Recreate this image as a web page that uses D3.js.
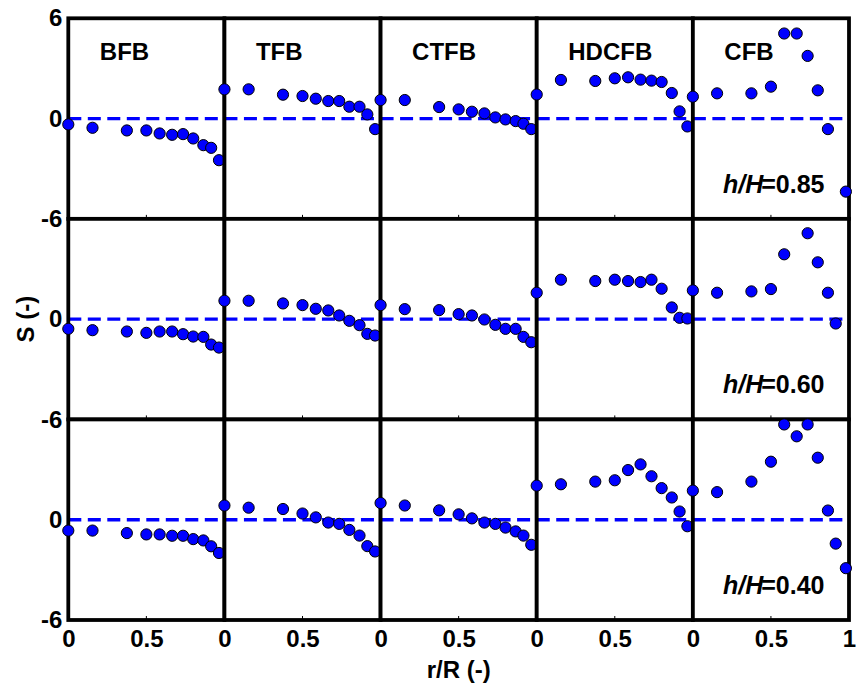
<!DOCTYPE html>
<html>
<head>
<meta charset="utf-8">
<script src="https://cdn.jsdelivr.net/npm/d3@7"></script>
<style>
	body { margin: 0; background: #fff; }
	text { font-family: "Liberation Sans", Arial, sans-serif; font-weight: bold; fill: #000; }
</style>
</head>
<body>
<svg id="chart" width="856" height="687"></svg>
<script>

// bed types (columns) and measuring heights (rows)
var bedTypes = ['BFB', 'TFB', 'CTFB', 'HDCFB', 'CFB'];
var heightLabels = ['0.85', '0.60', '0.40'];

// radial positions r/R
var radialPos = [0, 0.155, 0.375, 0.5, 0.585, 0.665, 0.735, 0.8, 0.865, 0.915, 0.965];
var cfbPos085 = [0, 0.155, 0.375, 0.5, 0.585, 0.665, 0.735, 0.8, 0.865, 0.98];
var cfbPos060 = [0, 0.155, 0.375, 0.5, 0.585, 0.735, 0.8, 0.865, 0.915];
var cfbPos040 = [0, 0.155, 0.375, 0.5, 0.585, 0.665, 0.735, 0.8, 0.865, 0.915, 0.98];

// S values, one array per bed type and height
var bfb085 = [-0.35, -0.55, -0.71, -0.71, -0.89, -0.97, -0.93, -1.19, -1.59, -1.75, -2.49];
var bfb060 = [-0.58, -0.66, -0.74, -0.82, -0.74, -0.74, -0.90, -1.04, -1.06, -1.52, -1.70];
var bfb040 = [-0.65, -0.65, -0.80, -0.88, -0.88, -0.96, -0.96, -1.16, -1.24, -1.59, -1.99];

var tfb085 = [1.75, 1.75, 1.43, 1.35, 1.19, 1.05, 1.05, 0.71, 0.71, 0.25, -0.63];
var tfb060 = [1.10, 1.10, 0.94, 0.84, 0.62, 0.52, 0.22, -0.10, -0.36, -0.88, -0.98];
var tfb040 = [0.85, 0.72, 0.64, 0.37, 0.14, -0.17, -0.25, -0.61, -0.95, -1.58, -1.90];

var ctfb085 = [1.11, 1.11, 0.69, 0.55, 0.41, 0.31, 0.07, -0.05, -0.15, -0.31, -0.63];
var ctfb060 = [0.84, 0.60, 0.54, 0.30, 0.22, -0.02, -0.34, -0.58, -0.58, -1.06, -1.38];
var ctfb040 = [1.00, 0.85, 0.56, 0.32, 0.08, -0.17, -0.25, -0.47, -0.70, -0.95, -1.50];

var hdcfb085 = [1.44, 2.31, 2.25, 2.41, 2.47, 2.33, 2.27, 2.19, 1.53, 0.43, -0.47];
var hdcfb060 = [1.58, 2.36, 2.28, 2.36, 2.28, 2.22, 2.36, 1.82, 0.70, 0.08, 0.04];
var hdcfb040 = [2.04, 2.12, 2.28, 2.36, 2.97, 3.31, 2.60, 1.89, 1.33, 0.49, -0.39];

var cfb085 = [1.31, 1.51, 1.51, 1.91, 5.09, 5.09, 3.75, 1.69, -0.63, -4.37];
var cfb060 = [1.72, 1.58, 1.66, 1.80, 3.88, 5.14, 3.40, 1.58, -0.26];
var cfb040 = [1.74, 1.65, 2.28, 3.47, 5.70, 4.99, 5.70, 3.71, 0.55, -1.43, -2.90];

var xTickValues = [0, 0.5];
var yTickValues = [6, 0, -6];

// panels: [row][col] -> [r/R, S]
var panels = [
	[[radialPos, bfb085], [radialPos, tfb085], [radialPos, ctfb085], [radialPos, hdcfb085], [cfbPos085, cfb085]],
	[[radialPos, bfb060], [radialPos, tfb060], [radialPos, ctfb060], [radialPos, hdcfb060], [cfbPos060, cfb060]],
	[[radialPos, bfb040], [radialPos, tfb040], [radialPos, ctfb040], [radialPos, hdcfb040], [cfbPos040, cfb040]]
];

var LEFT = 68.3, RIGHT = 849, TOP = 18.3, BOTTOM = 620;
var BORDER_WIDTH = 3.8;
var DOT_RADIUS = 5.6;
var TICK_FONT = '24px';

var svg = d3.select('#chart');

var colScale = d3.scaleLinear().domain([0, bedTypes.length]).range([LEFT, RIGHT]);
var rowScale = d3.scaleLinear().domain([0, heightLabels.length]).range([TOP, BOTTOM]);

// plain hyphen minus like the original figure
function plainFormat(d) {
	return String(d);
}

for(var r = 0; r < heightLabels.length; r++) {
	var rowTop = rowScale(r), rowBottom = rowScale(r + 1);
	var y = d3.scaleLinear().domain([-6, 6]).range([rowBottom, rowTop]);

	for(var c = 0; c < bedTypes.length; c++) {
		var colLeft = colScale(c), colRight = colScale(c + 1);
		var x = d3.scaleLinear().domain([0, 1]).range([colLeft, colRight]);
		var g = svg.append('g').attr('class', 'panel');

		// each panel is its own axes, white background covers neighbours' overflow
		g.append('rect')
			.attr('x', colLeft).attr('y', rowTop)
			.attr('width', colRight - colLeft).attr('height', rowBottom - rowTop)
			.attr('fill', '#fff');

		g.append('line')
			.attr('x1', colLeft).attr('x2', colRight)
			.attr('y1', y(0)).attr('y2', y(0))
			.attr('stroke', '#0000ff')
			.attr('stroke-width', 3.4)
			.attr('stroke-dasharray', '13,6.5');

		// small inward ticks
		g.selectAll('line.tick')
			.data(xTickValues.slice(1))
			.enter().append('line')
			.attr('x1', function(d) { return x(d); })
			.attr('x2', function(d) { return x(d); })
			.attr('y1', rowBottom).attr('y2', rowBottom - 4)
			.attr('stroke', '#000').attr('stroke-width', 1);

		g.append('rect')
			.attr('x', colLeft).attr('y', rowTop)
			.attr('width', colRight - colLeft).attr('height', rowBottom - rowTop)
			.attr('fill', 'none')
			.attr('stroke', '#000')
			.attr('stroke-width', BORDER_WIDTH);

		var xs = panels[r][c][0], ss = panels[r][c][1];
		g.selectAll('circle')
			.data(ss)
			.enter().append('circle')
			.attr('cx', function(d, i) { return x(xs[i]); })
			.attr('cy', function(d) { return y(d); })
			.attr('r', DOT_RADIUS)
			.attr('fill', '#0000ff')
			.attr('stroke', '#000')
			.attr('stroke-width', 1);

		if(r === 0) {
			g.append('text')
				.attr('x', colLeft + 31.5)
				.attr('y', 60)
				.style('font-size', '24px')
				.text(bedTypes[c]);
		}

		// x axis on bottom row
		if(r === heightLabels.length - 1) {
			var ticks = (c === bedTypes.length - 1) ? xTickValues.concat([1]) : xTickValues;
			var xAxis = d3.axisBottom(x).tickValues(ticks).tickSize(0).tickPadding(10)
				.tickFormat(plainFormat);
			var ax = svg.append('g')
				.attr('transform', 'translate(0,' + rowBottom + ')')
				.call(xAxis);
			ax.select('.domain').remove();
			ax.selectAll('text')
				.attr('dy', '0.71em')
				.style('font-size', TICK_FONT)
				.style('font-family', '"Liberation Sans", Arial, sans-serif')
				.style('font-weight', 'bold')
				.attr('fill', '#000');
		}
	}

	// y axis
	var yAxis = d3.axisLeft(y)
		.tickValues(r === 0 ? yTickValues : yTickValues.slice(1))
		.tickSize(0).tickPadding(6)
		.tickFormat(plainFormat);
	var ay = svg.append('g')
		.attr('transform', 'translate(' + LEFT + ',0)')
		.call(yAxis);
	ay.select('.domain').remove();
	ay.selectAll('text')
		.style('font-size', TICK_FONT)
		.style('font-family', '"Liberation Sans", Arial, sans-serif')
		.style('font-weight', 'bold')
		.attr('fill', '#000');

	// h/H label
	var lbl = svg.append('text')
		.attr('x', RIGHT - 24.5)
		.attr('y', rowBottom - 26)
		.attr('text-anchor', 'end')
		.style('font-size', '25px');
	lbl.append('tspan').style('font-style', 'italic').text('h/H');
	lbl.append('tspan').attr('dx', -2).text('=' + heightLabels[r]);
}

svg.append('text')
	.attr('x', (LEFT + RIGHT) / 2)
	.attr('y', 678)
	.attr('text-anchor', 'middle')
	.style('font-size', '24px')
	.text('r/R (-)');

svg.append('text')
	.attr('transform', 'translate(34,' + ((TOP + BOTTOM) / 2) + ') rotate(-90)')
	.attr('text-anchor', 'middle')
	.style('font-size', '24px')
	.text('S (-)');

</script>
</body>
</html>
